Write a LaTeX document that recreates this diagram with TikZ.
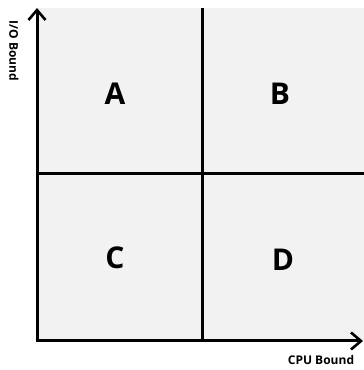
\documentclass[tikz,border=0pt]{standalone}
\usepackage{fontspec}
\setmainfont{Open Sans}
\usetikzlibrary{arrows.meta,positioning}
\definecolor{paper}{RGB}{242,242,242}
\definecolor{ink}{RGB}{0,0,0}
\tikzset{
  >={Straight Barb[length=10pt,width=17pt,line width=2.6pt]},
  axis/.style={->,draw=ink,line width=3pt},
  divider/.style={draw=ink,line width=3pt},
  quad/.style={font=\fontsize{30}{30}\selectfont\bfseries,text=ink},
  axlabel/.style={font=\fontsize{12}{12}\selectfont\bfseries,text=ink},
}
\begin{document}
\begin{tikzpicture}[x=1pt,y=1pt]
  \useasboundingbox (0,0) rectangle (364,370);
  \fill[paper] (37,29) rectangle (364,362);
  % corners and ends of the grid
  \coordinate (O) at (37,29);
  \coordinate (ytop) at (37,362);
  \coordinate (xend) at (363,29);
  \coordinate (vtop) at (202,362);
  \coordinate (vbot) at (202,29);
  \coordinate (hleft) at (37,196);
  \coordinate (hright) at (364,196);
  \draw[divider] (vbot) -- (vtop);
  \draw[divider] (hleft) -- (hright);
  \draw[axis] ([yshift=-1.5pt]O) -- (ytop);
  \draw[axis] ([xshift=-1.5pt]O) -- (xend);
  % quadrants
  \node[quad] (qa) at (115,276) {A};
  \node[quad] (qb) at (280,276) {B};
  \node[quad] (qc) at (115,112) {C};
  \node[quad] (qd) at (283,110) {D};
  % axis labels
  \node[axlabel,rotate=-90] (io) at (14,319) {I/O Bound};
  \node[axlabel] (cpu) at (321,10) {CPU Bound};
\end{tikzpicture}
\end{document}
